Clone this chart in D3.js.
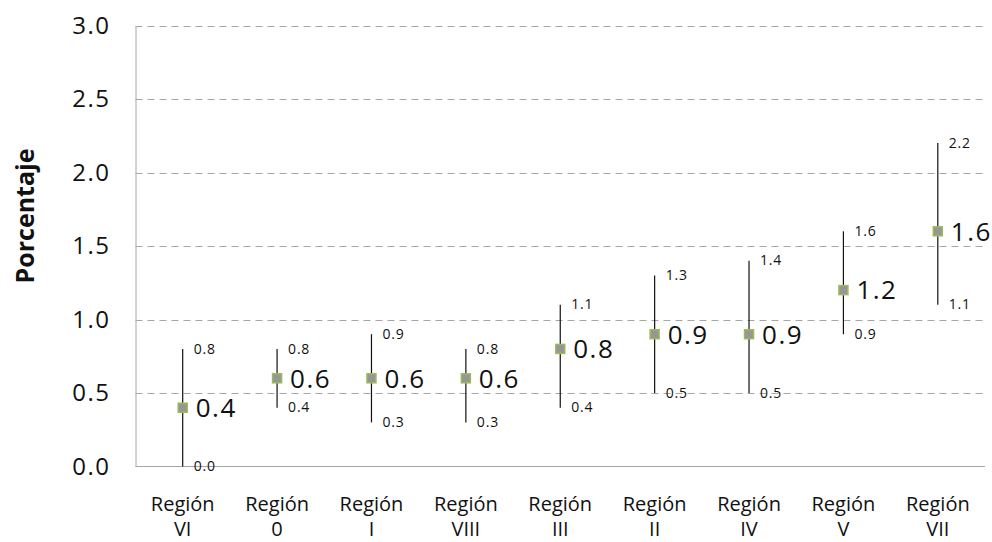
<!DOCTYPE html>
<html><head><meta charset="utf-8">
<script src="https://cdn.jsdelivr.net/npm/d3@7"></script>
<style>body{margin:0;background:#fff}svg{display:block}</style>
</head><body>
<svg id="c" width="992" height="542"></svg>
<script>
const categories = ["Región VI","Región 0","Región I","Región VIII","Región III","Región II","Región IV","Región V","Región VII"];
const values = [0.4,0.6,0.6,0.6,0.8,0.9,0.9,1.2,1.6];
const lower  = [0.0,0.4,0.3,0.3,0.4,0.5,0.5,0.9,1.1];
const upper  = [0.8,0.8,0.9,0.8,1.1,1.3,1.4,1.6,2.2];
const yTicks = [0,0.5,1.0,1.5,2.0,2.5,3.0];

const svg = d3.select("#c");
const m = {l:135.5, r:985, t:25.5, b:466.5};
const font = "'Open Sans', 'Noto Sans', sans-serif";
const x = d3.scaleBand().domain(categories).range([m.l, m.r]);
const y = d3.scaleLinear().domain([0,3]).range([m.b, m.t]);
const f1 = d3.format(".1f");

// gridlines
svg.append("g").selectAll("line").data(yTicks.filter(d=>d>0)).join("line")
  .attr("x1", m.l).attr("x2", m.r)
  .attr("y1", d=>Math.round(y(d))+0.5).attr("y2", d=>Math.round(y(d))+0.5)
  .attr("stroke","#a6a6a6").attr("stroke-dasharray","7,5");

// y axis
const yAxis = d3.axisLeft(y).tickValues(yTicks).tickFormat(f1).tickSize(0).tickPadding(25);
const ga = svg.append("g").attr("transform",`translate(${m.l},0)`).call(yAxis);
ga.select(".domain").attr("stroke","#a6a6a6");
ga.selectAll("text").attr("font-family",font).attr("font-size",24)
  .attr("letter-spacing","1.5px").attr("fill","#111");

// x axis baseline
svg.append("line").attr("x1",m.l).attr("x2",m.r).attr("y1",m.b).attr("y2",m.b).attr("stroke","#a6a6a6");

// x labels
const xl = svg.append("g").selectAll("text").data(categories).join("text")
  .attr("text-anchor","middle").attr("font-family",font).attr("font-size",20).attr("fill","#111")
  .attr("transform", d=>`translate(${x(d)+x.bandwidth()/2},511)`);
xl.append("tspan").attr("x",0).attr("y",0).text(d=>d.split(" ")[0]);
xl.append("tspan").attr("x",0).attr("y",25).text(d=>d.split(" ")[1]);

// y title
svg.append("text").attr("transform","translate(34,216) rotate(-90)")
  .attr("text-anchor","middle").attr("font-family",font).attr("font-weight","bold")
  .attr("font-size",25).attr("fill","#111").text("Porcentaje");

const cx = i => x(categories[i]) + x.bandwidth()/2;
const g = svg.append("g");
categories.forEach((c,i)=>{
  const px = cx(i);
  g.append("line").attr("x1",px).attr("x2",px).attr("y1",y(lower[i])).attr("y2",y(upper[i]))
    .attr("stroke","#111").attr("stroke-width",1.2);
  g.append("rect").attr("x",px-4.5).attr("y",y(values[i])-4.5).attr("width",9).attr("height",9)
    .attr("fill","#969696").attr("stroke","#9bbb59").attr("stroke-width",1.5);
  g.append("text").attr("x",px+13).attr("y",y(values[i])).attr("dy","0.36em")
    .attr("font-family",font).attr("font-size",26).attr("letter-spacing","1.5px")
    .attr("fill","#111").text(f1(values[i]));
  g.append("text").attr("x",px+11).attr("y",y(upper[i])).attr("dy","0.33em")
    .attr("font-family",font).attr("font-size",14).attr("letter-spacing","0.8px")
    .attr("fill","#111").text(f1(upper[i]));
  g.append("text").attr("x",px+11).attr("y",y(lower[i])).attr("dy","0.33em")
    .attr("font-family",font).attr("font-size",14).attr("letter-spacing","0.8px")
    .attr("fill","#111").text(f1(lower[i]));
});
</script>
</body></html>
